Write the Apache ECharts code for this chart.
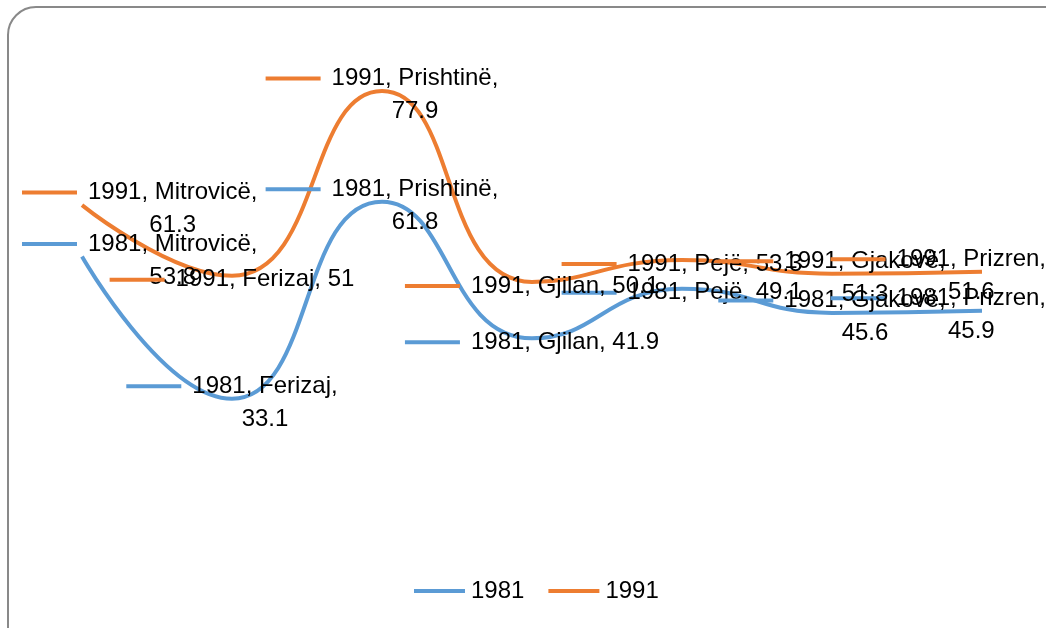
<!DOCTYPE html>
<html>
<head>
<meta charset="utf-8">
<script src="https://cdn.jsdelivr.net/npm/echarts@6/dist/echarts.min.js"></script>
<style>
  html, body { margin: 0; padding: 0; background: #fff; }
  #chart { width: 1046px; height: 628px; }
</style>
</head>
<body>
<div id="chart"></div>
<script>
// cities
const categories = ['Mitrovicë', 'Ferizaj', 'Prishtinë', 'Gjilan', 'Pejë', 'Gjakovë', 'Prizren'];
// values per year
const values1981 = [53.8, 33.1, 61.8, 41.9, 49.1, 45.6, 45.9];
const values1991 = [61.3, 51, 77.9, 50.1, 53.3, 51.3, 51.6];

const FONT = '"Liberation Sans", Arial, sans-serif';
const BLUE = '#5B9BD5';
const ORANGE = '#ED7D31';

const chart = echarts.init(document.getElementById('chart'));

// excel style data label: legend key + "series, category, value"
function makeLabel(color) {
  return {
    show: true,
    position: 'inside',
    align: 'center',
    verticalAlign: 'middle',
    formatter: p => {
      const full = p.seriesName + ', ' + p.name + ', ' + p.value;
      if (full.length > 18) {
        return '{k|}{g|}{t|' + p.seriesName + ', ' + p.name + ',}\n{e|}{t|' + p.value + '}';
      }
      return '{k|}{g|}{t|' + full + '}';
    },
    rich: {
      k: { width: 55, height: 4, backgroundColor: color },
      g: { width: 11 },
      e: { width: 66 },
      t: { fontFamily: FONT, fontSize: 24, color: '#000', lineHeight: 33 }
    }
  };
}

// keep labels inside the chart area like excel does
function clampLabel(params) {
  const r = params.labelRect;
  let dx = 0;
  if (r.x < 22) dx = 22 - r.x;
  if (r.x + r.width > 1046) dx = 1046 - (r.x + r.width);
  return { dx: dx, dy: 4 };
}

const option = {
  animation: false,
  textStyle: { fontFamily: FONT },
  graphic: [{
    type: 'rect',
    shape: { x: 8, y: 7, width: 1070, height: 650, r: 28 },
    style: { fill: 'none', stroke: '#898989', lineWidth: 2 },
    z: -1
  }],
  grid: { left: 82, right: 64, top: 8, bottom: 2 },
  legend: {
    bottom: 20,
    left: 409,
    itemWidth: 51,
    itemHeight: 4,
    itemGap: 24,
    icon: 'rect',
    textStyle: { fontFamily: FONT, fontSize: 24, color: '#000', padding: [0, 0, 0, 1] },
    data: ['1981', '1991']
  },
  xAxis: {
    type: 'category',
    data: categories,
    boundaryGap: false,
    show: false
  },
  yAxis: {
    type: 'value',
    min: 0,
    max: 90,
    show: false
  },
  series: [
    {
      name: '1981',
      type: 'line',
      data: values1981,
      smooth: 0.5,
      showSymbol: true,
      symbol: 'circle',
      symbolSize: 0,
      color: BLUE,
      lineStyle: { width: 4, color: BLUE },
      label: makeLabel(BLUE),
      labelLayout: clampLabel
    },
    {
      name: '1991',
      type: 'line',
      data: values1991,
      smooth: 0.5,
      showSymbol: true,
      symbol: 'circle',
      symbolSize: 0,
      color: ORANGE,
      lineStyle: { width: 4, color: ORANGE },
      label: makeLabel(ORANGE),
      labelLayout: clampLabel
    }
  ]
};

chart.setOption(option);
</script>
</body>
</html>
